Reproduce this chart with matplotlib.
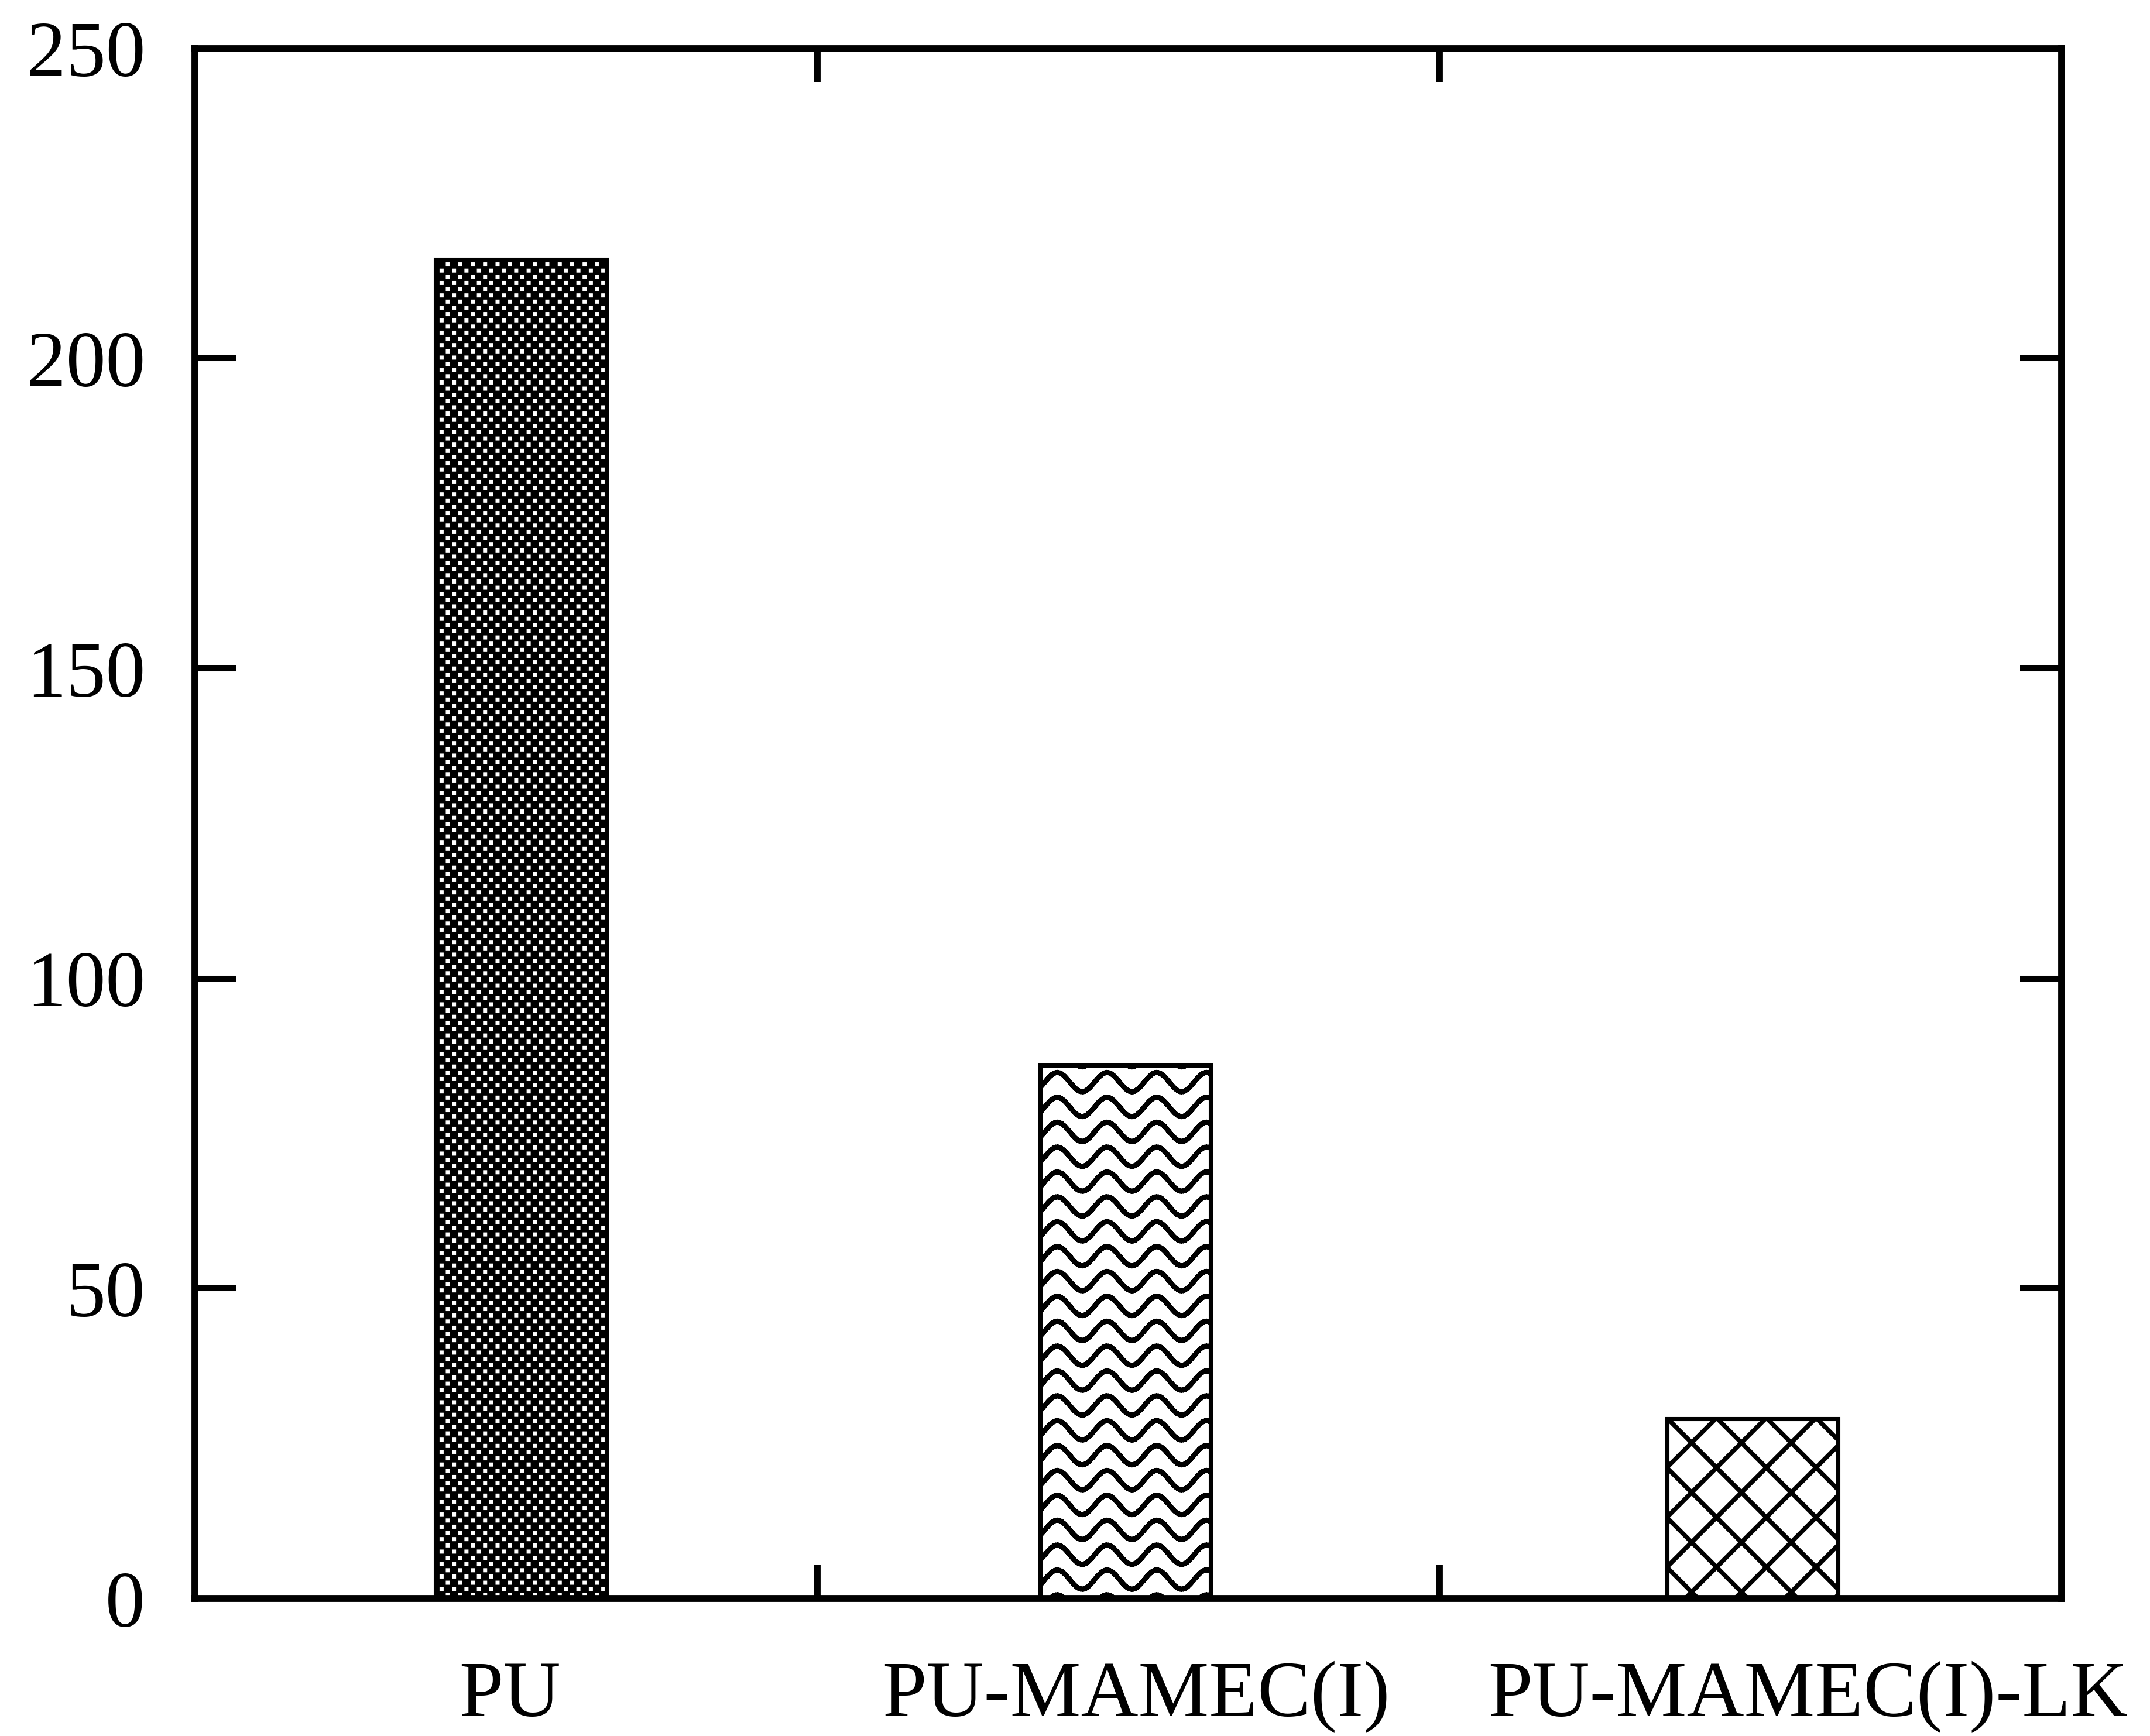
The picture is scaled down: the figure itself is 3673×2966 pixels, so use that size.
import warnings
warnings.filterwarnings("ignore")
import numpy as np
import matplotlib
matplotlib.use("Agg")
import matplotlib.pyplot as plt
import matplotlib.hatch as mhatch
from matplotlib.path import Path

# ---------------- data ----------------
categories = ["PU", "PU-MAMEC(I)", "PU-MAMEC(I)-LK"]
values = [216, 86, 29]
y_ticks = [0, 50, 100, 150, 200, 250]
y_ticklabels = ["0", "50", "100", "150", "200", "250"]

# ---------------- layout ----------------
bar_pos = [0.524, 1.495, 2.503]
label_pos = [0.506, 1.512, 2.592]
bar_width = 0.274
DPI = 85


# ---------------- custom hatches ----------------
class DotHatch(mhatch.HatchPatternBase):
    """staggered small squares (char 'd')"""
    ncol, nrow, s = 4, 8, 2.9 / 85

    def __init__(self, hatch, density):
        self.on = hatch.count('d') > 0
        self.centers = []
        if self.on:
            for r in range(self.nrow):
                y = (r + 0.5) / self.nrow
                if r % 2 == 0:
                    xs = [(c + 0.5) / self.ncol for c in range(self.ncol)]
                else:
                    xs = [c / self.ncol for c in range(self.ncol + 1)]
                for x in xs:
                    self.centers.append((x, y))
        self.num_vertices = len(self.centers) * 5

    def set_vertices_and_codes(self, vertices, codes):
        s = self.s
        for i, (x, y) in enumerate(self.centers):
            v = [(x - s, y - s), (x + s, y - s), (x + s, y + s), (x - s, y + s), (x - s, y - s)]
            vertices[i * 5:(i + 1) * 5] = v
            codes[i * 5] = Path.MOVETO
            codes[i * 5 + 1:i * 5 + 4] = Path.LINETO
            codes[i * 5 + 4] = Path.CLOSEPOLY


class WaveHatch(mhatch.HatchPatternBase):
    """sinusoidal wavy lines (char 'w'), built from 2-point segments"""
    rows = [0.25, 0.75]
    amp = 0.19
    nseg = 48

    def __init__(self, hatch, density):
        self.on = hatch.count('w') > 0
        self.num_vertices = (len(self.rows) * self.nseg * 2) if self.on else 0

    def set_vertices_and_codes(self, vertices, codes):
        xs = np.linspace(-0.1, 1.1, self.nseg + 1)
        i = 0
        for r in self.rows:
            ys = r + self.amp * np.sin(2 * np.pi * xs)
            for k in range(self.nseg):
                vertices[i] = (xs[k], ys[k])
                vertices[i + 1] = (xs[k + 1], ys[k + 1])
                codes[i] = Path.MOVETO
                codes[i + 1] = Path.LINETO
                i += 2


class DiamondHatch(mhatch.HatchPatternBase):
    """one diagonal each way per cell (char 'k')"""
    def __init__(self, hatch, density):
        self.on = hatch.count('k') > 0
        self.num_vertices = 12 if self.on else 0

    def set_vertices_and_codes(self, vertices, codes):
        i = 0
        for k in (-1, 0, 1):
            vertices[i] = (-0.5, -0.5 + k)
            vertices[i + 1] = (1.5, 1.5 + k)
            vertices[i + 2] = (-0.5, 1.5 + k)
            vertices[i + 3] = (1.5, -0.5 + k)
            codes[i] = Path.MOVETO
            codes[i + 1] = Path.LINETO
            codes[i + 2] = Path.MOVETO
            codes[i + 3] = Path.LINETO
            i += 4


mhatch._hatch_types.extend([DotHatch, WaveHatch, DiamondHatch])

# ---------------- figure ----------------
plt.rcParams['font.family'] = ['Liberation Serif', 'DejaVu Serif']
fig = plt.figure(figsize=(3673.4 / DPI, 2966.4 / DPI), dpi=DPI)
W, H = 3673, 2966
left, right, top, bottom = 333, 3522, 83, 2731
ax = fig.add_axes([left / W, (H - bottom) / H, (right - left) / W, (bottom - top) / H])

ax.set_xlim(0, 3)
ax.set_ylim(0, 250)

hatches = ['d', 'w', 'k']
hlw = [1.0, 7.0, 6.5]
for i in range(3):
    plt.rcParams['hatch.linewidth'] = hlw[i]
    if i == 0:
        b = ax.bar(bar_pos[i], values[i], width=bar_width, facecolor='black',
                   edgecolor='white', linewidth=0, hatch=hatches[i], zorder=2)
    else:
        b = ax.bar(bar_pos[i], values[i], width=bar_width, facecolor='white',
                   edgecolor='black', linewidth=0, hatch=hatches[i], zorder=2)
    for p in b:
        if hasattr(p, 'set_hatch_linewidth'):
            p.set_hatch_linewidth(hlw[i])
    ax.bar(bar_pos[i], values[i], width=bar_width, fill=False,
           edgecolor='black', linewidth=6.0, zorder=3)

for s in ax.spines.values():
    s.set_linewidth(10)
    s.set_zorder(4)

ax.set_yticks(y_ticks, y_ticklabels)
ax.tick_params(axis='y', which='major', direction='in', left=True, right=True,
               length=60, width=8.5, labelsize=115, pad=72)
ax.set_xticks([1, 2], ['', ''])
ax.tick_params(axis='x', which='major', direction='in', top=True, bottom=True,
               length=48, width=10)
ax.set_xticks(label_pos, categories, minor=True)
ax.tick_params(axis='x', which='minor', length=0, labelsize=115, pad=90)

fig.savefig('out.png', dpi=DPI, facecolor='white')
